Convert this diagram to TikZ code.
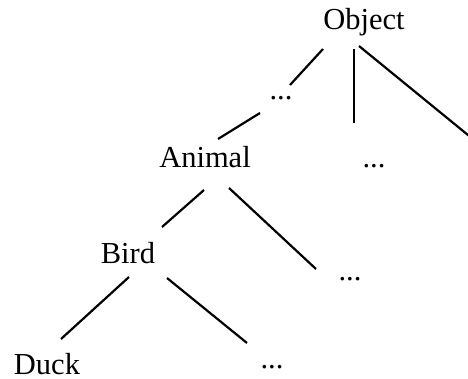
\documentclass[tikz,border=0pt]{standalone}
\usepackage{fontspec}
\setmainfont{Liberation Serif}
\begin{document}
\begin{tikzpicture}[x=1pt,y=-1pt,
  lbl/.style={anchor=base,inner sep=0pt,font=\fontsize{30.5}{36}\selectfont},
  edge/.style={line width=2.2pt}]
\useasboundingbox (0,0) rectangle (468,379);
\clip (0,0) rectangle (468,379);
\node[lbl] (obj) at (364,30) {Object};
\node[lbl] (d1) at (281,100) {...};
\node[lbl] (d2) at (374,168) {...};
\node[lbl] (anim) at (205,168) {Animal};
\node[lbl] (d3) at (350,280) {...};
\node[lbl] (bird) at (128,263) {Bird};
\node[lbl] (duck) at (47,374) {Duck};
\node[lbl] (d4) at (272,368) {...};
\coordinate (off) at (490,153);
\draw[edge] ([shift={(-41,19)}]obj.base) -- ([shift={(9,-15)}]d1.base);
\draw[edge] ([shift={(-10,19)}]obj.base) -- ([shift={(-20,-45)}]d2.base);
\draw[edge] ([shift={(-5,16)}]obj.base) -- (off);
\draw[edge] ([shift={(-21,13)}]d1.base) -- ([shift={(13,-29)}]anim.base);
\draw[edge] ([shift={(-1,22)}]anim.base) -- ([shift={(34,-36)}]bird.base);
\draw[edge] ([shift={(24,20)}]anim.base) -- ([shift={(-34,-11)}]d3.base);
\draw[edge] ([shift={(1,14)}]bird.base) -- ([shift={(14,-35)}]duck.base);
\draw[edge] ([shift={(39,15)}]bird.base) -- ([shift={(-25,-25)}]d4.base);
\end{tikzpicture}
\end{document}
